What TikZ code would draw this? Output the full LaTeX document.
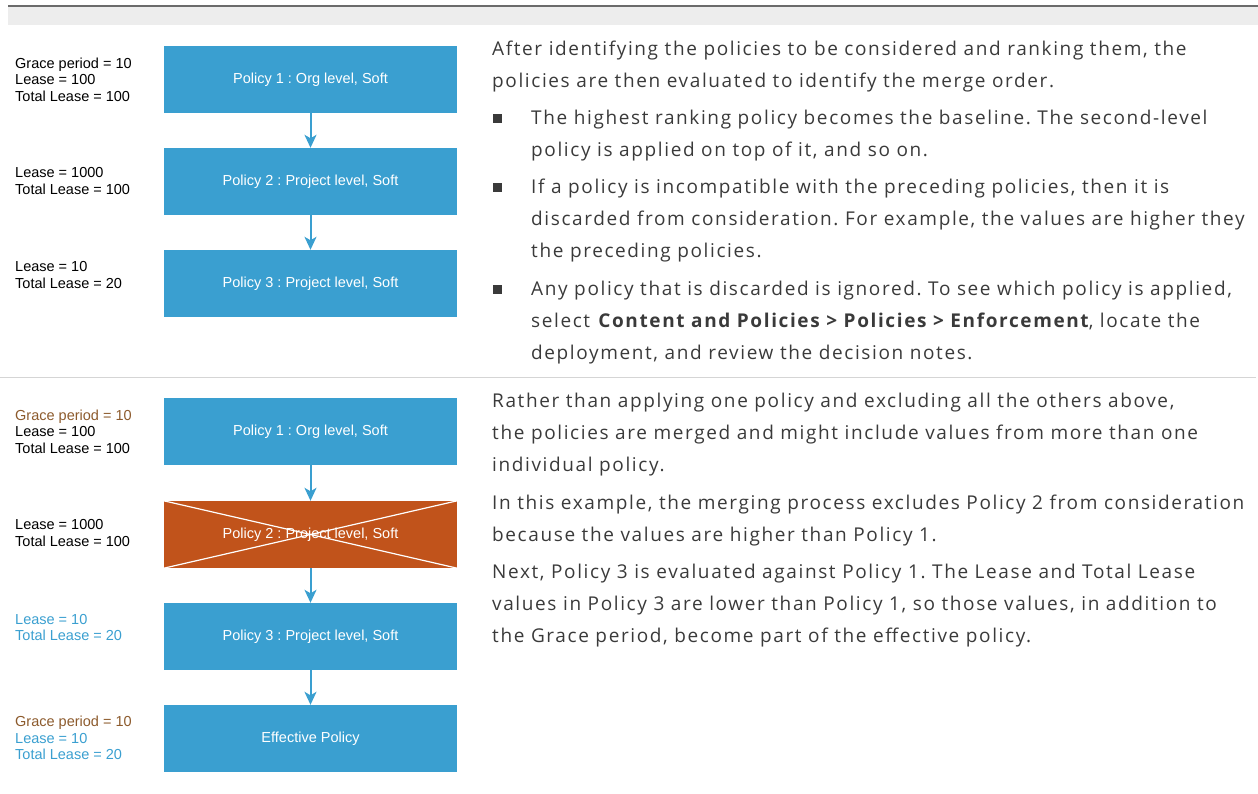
\documentclass[tikz,border=0pt]{standalone}
\usepackage{fontspec}
\setmainfont{Liberation Sans}
\newfontfamily\prosefont[LetterSpace=8.5]{Open Sans}
\usepackage{xcolor}
\usepackage{tikz}
\usetikzlibrary{positioning, arrows.meta}
\frenchspacing

\definecolor{boxblue}{HTML}{3A9FD0}
\definecolor{boxorange}{HTML}{C1531B}
\definecolor{gracebrown}{HTML}{8C5A2C}
\definecolor{prosegray}{HTML}{3A3A3A}
\definecolor{headgray}{HTML}{EDEDED}
\definecolor{rulegray}{HTML}{6B6B6B}
\definecolor{sepgray}{HTML}{D5D5D5}

\tikzset{
	policy/.style={rectangle, fill=boxblue, minimum width=293pt, minimum height=67pt, inner sep=0pt, text=white, font=\fontsize{14.5}{16.5}\selectfont},
	dropped/.style={policy, fill=boxorange},
	values/.style={anchor=west, align=left, inner sep=0pt, font=\fontsize{14.5}{16.5}\selectfont},
	prose/.style={anchor=north west, align=left, inner sep=0pt, text=prosegray, font=\prosefont\fontsize{19}{32}\selectfont},
	bulletmark/.style={rectangle, fill=prosegray, minimum size=9pt, inner sep=0pt},
	flow/.style={-{Stealth[length=13pt, width=12pt, inset=3.5pt]}, line width=2pt, draw=boxblue}
}

\begin{document}
\begin{tikzpicture}
		[x=1pt, y=-1pt]
	
		\useasboundingbox (0,0) rectangle (1258,794);
	
		% header and rules %
		\fill[headgray] (8,7) rectangle (1258,25);
		\draw[rulegray, line width=2.5pt] (8,6) -- (1258,6);
		\draw[sepgray, line width=1pt] (0,377) -- (1256,377);
	
		% nodes, first row %
		\node[policy] (p1) at (310.5,79.5) {Policy 1 : Org level, Soft};
		\node[policy] (p2) at (310.5,181.5) {Policy 2 : Project level, Soft};
		\node[policy] (p3) at (310.5,283.5) {Policy 3 : Project level, Soft};
	
		\node[values] (v1) at (15,79.5) {Grace period = 10\\Lease = 100\\Total Lease = 100};
		\node[values] (v2) at (15,181) {Lease = 1000\\Total Lease = 100};
		\node[values] (v3) at (15,275) {Lease = 10\\Total Lease = 20};
	
		% nodes, second row %
		\node[policy] (q1) at (310.5,431.5) {Policy 1 : Org level, Soft};
		\node[dropped] (q2) at (310.5,534.5) {Policy 2 : Project level, Soft};
		\node[policy] (q3) at (310.5,636.5) {Policy 3 : Project level, Soft};
		\node[policy] (qe) at (310.5,738.5) {Effective Policy};
	
		\node[values] (w1) at (15,431.5) {\textcolor{gracebrown}{Grace period = 10}\\Lease = 100\\Total Lease = 100};
		\node[values] (w2) at (15,533) {Lease = 1000\\Total Lease = 100};
		\node[values, text=boxblue] (w3) at (15,627.5) {Lease = 10\\Total Lease = 20};
		\node[values, text=boxblue] (we) at (15,738) {\textcolor{gracebrown}{Grace period = 10}\\Lease = 10\\Total Lease = 20};
	
		% edges %
		\draw[flow] (p1) -- (p2);
		\draw[flow] (p2) -- (p3);
		\draw[flow] (q1) -- (q2);
		\draw[flow] (q2) -- (q3);
		\draw[flow] (q3) -- (qe);
		\draw[white, line width=1.2pt] (q2.north west) -- (q2.south east);
		\draw[white, line width=1.2pt] (q2.south west) -- (q2.north east);
	
		% text, first row %
		\node[prose] (t1) at (492,41) {After identifying the policies to be considered and ranking them, the\\policies are then evaluated to identify the merge order.};
		\node[bulletmark] (m1) at (497.5,118.5) {};
		\node[bulletmark] (m2) at (497.5,187.5) {};
		\node[bulletmark] (m3) at (497.5,289.5) {};
		\node[prose] (t2) at (531,110) {The highest ranking policy becomes the baseline. The second-level\\policy is applied on top of it, and so on.};
		\node[prose] (t3) at (531,179) {If a policy is incompatible with the preceding policies, then it is\\discarded from consideration. For example, the values are higher they\\the preceding policies.};
		\node[prose] (t4) at (531,281) {Any policy that is discarded is ignored. To see which policy is applied,\\select \textbf{Content and Policies > Policies > Enforcement}, locate the\\deployment, and review the decision notes.};
	
		% text, second row %
		\node[prose] (u1) at (492,393) {Rather than applying one policy and excluding all the others above,\\the policies are merged and might include values from more than one\\individual policy.};
		\node[prose] (u2) at (492,495) {In this example, the merging process excludes Policy 2 from consideration\\because the values are higher than Policy 1.};
		\node[prose] (u3) at (492,564) {Next, Policy 3 is evaluated against Policy 1. The Lease and Total Lease\\values in Policy 3 are lower than Policy 1, so those values, in addition to\\the Grace period, become part of the effective policy.};
	
		\end{tikzpicture}
\end{document}
